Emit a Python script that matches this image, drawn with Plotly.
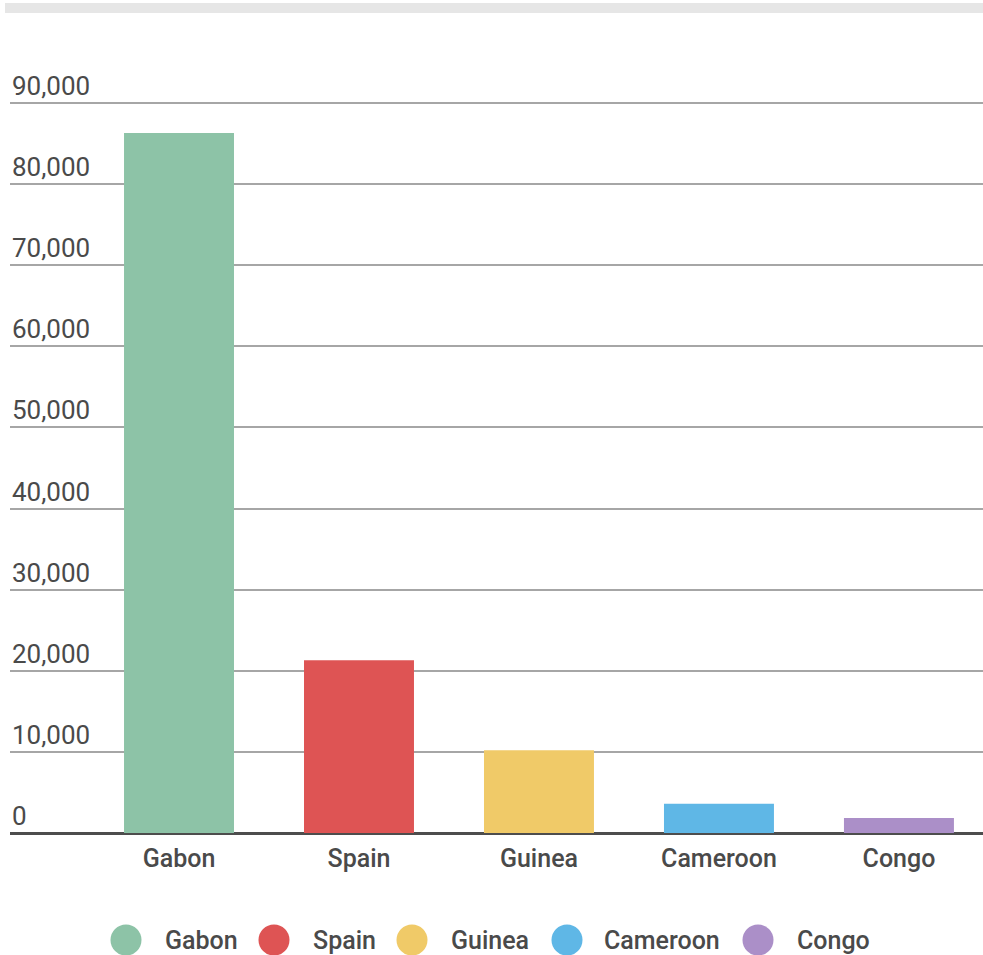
import plotly.graph_objects as go

countries = ["Gabon", "Spain", "Guinea", "Cameroon", "Congo"]
values = [86300, 21300, 10200, 3600, 1850]
colors = ["#8DC3A7", "#DE5454", "#F0CA68", "#5FB7E6", "#AB8FC8"]
y_ticks = [0, 10000, 20000, 30000, 40000, 50000, 60000, 70000, 80000, 90000]
y_tick_labels = ["0", "10,000", "20,000", "30,000", "40,000", "50,000",
                 "60,000", "70,000", "80,000", "90,000"]

W, H = 983, 955
L, R, T, B = 10, 0, 100, 122
PW, PH = W - L - R, H - T - B

FONT = "Roboto"
TXT = "#4A4A4A"

fig = go.Figure()
fig.add_trace(go.Bar(
    x=countries, y=values,
    marker=dict(color=colors, line=dict(width=0)),
    width=0.611, showlegend=False, hoverinfo="x+y",
))

annotations = []
for v, lab in zip(y_ticks, y_tick_labels):
    annotations.append(dict(
        x=0, xref="paper", y=v, yref="y", text=lab, showarrow=False,
        xanchor="left", yanchor="bottom", yshift=0,
        font=dict(family=FONT, size=26, color=TXT),
    ))

shapes = [dict(
    type="rect", xref="paper", yref="paper",
    x0=(5 - L) / PW, x1=1.0,
    y0=(H - B - 13) / PH, y1=(H - B - 3) / PH,
    fillcolor="#E6E6E6", line=dict(width=0), layer="below",
)]

# manual legend (circle swatches)
legend_circle_x = [126, 274, 412, 567, 758]
legend_text_x = [163, 311, 449, 602, 795]
legend_y_px = 940
for name, col, cx, tx in zip(countries, colors, legend_circle_x, legend_text_x):
    py = (H - B - legend_y_px) / PH
    shapes.append(dict(
        type="circle", xref="paper", yref="paper",
        xsizemode="pixel", ysizemode="pixel",
        xanchor=(cx - L) / PW, yanchor=py,
        x0=-15.5, x1=15.5, y0=-15.5, y1=15.5,
        fillcolor=col, line=dict(width=0),
    ))
    annotations.append(dict(
        x=(tx - L) / PW, xref="paper", y=py, yref="paper", text=name,
        showarrow=False, xanchor="left", yanchor="middle",
        font=dict(family=FONT, size=25, color=TXT, weight=500),
    ))

fig.update_layout(
    width=W, height=H,
    margin=dict(l=L, r=R, t=T, b=B, pad=0),
    paper_bgcolor="white", plot_bgcolor="white",
    font=dict(family=FONT, color=TXT),
    xaxis=dict(
        range=[-0.939, 4.467], showgrid=False, zeroline=False,
        showline=False, ticks="outside", ticklen=3, tickcolor="rgba(0,0,0,0)",
        tickfont=dict(family=FONT, size=25, color=TXT, weight=500),
        fixedrange=True,
    ),
    yaxis=dict(
        range=[0, 90000 * (PH) / (PH - 3)], tickvals=y_ticks,
        showticklabels=False, showgrid=True, gridcolor="#A6A6A6", gridwidth=1.5,
        zeroline=True, zerolinecolor="#4D4D4D", zerolinewidth=3,
        fixedrange=True,
    ),
    annotations=annotations, shapes=shapes,
    showlegend=False,
)

fig.write_html(
    "out.html",
    config={"displayModeBar": False},
    post_script="document.body.style.margin='0';document.body.style.overflow='hidden';",
)
